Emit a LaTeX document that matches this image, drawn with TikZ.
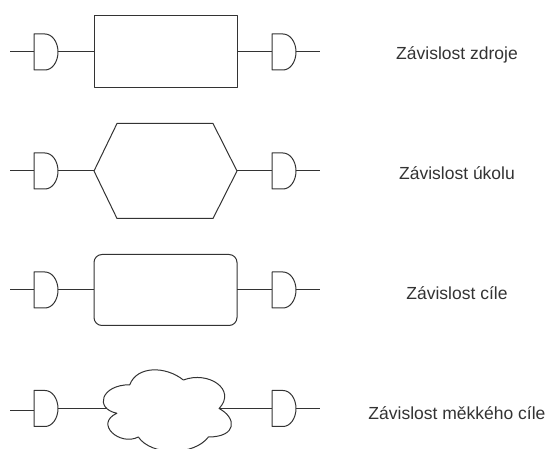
\documentclass[tikz,border=0pt]{standalone}
\usepackage{fontspec}
\setmainfont{Liberation Sans}
\begin{document}
\begin{tikzpicture}[x=1pt,y=-1pt,
  ln/.style={draw=black!80,line width=1pt,line join=round},
  lbl/.style={anchor=base,inner sep=0pt,text=black!80,font=\fontsize{17.5}{20}\selectfont},
  boxshape/.style={ln,minimum width=143pt,inner sep=0pt,outer sep=0pt}]
\useasboundingbox (0,0) rectangle (547,449);
\newcommand\andgate[3]{%
  \coordinate (#1-in) at (#2,#3);
  \coordinate (#1-out) at (#2+24,#3);
  \begin{scope}[shift={(#2,#3)}]
    \draw[ln,fill=white] (0,-18) -- (11,-18) .. controls (18.18,-18) and (24,-9.94) .. (24,0)
      .. controls (24,9.94) and (18.18,18) .. (11,18) -- (0,18) -- cycle;
  \end{scope}}
% Row 1
\coordinate (s1) at (10,52);
\coordinate (e1) at (320,52);
\andgate{g1l}{34}{52}
\andgate{g1r}{272}{52}
\node[boxshape,minimum height=72pt] (r1) at (165.5,52) {};
\draw[ln] (s1) -- (g1l-in);
\draw[ln] (g1l-out) -- (r1.west);
\draw[ln] (r1.east) -- (g1r-in);
\draw[ln] (g1r-out) -- (e1);
% Row 2
\coordinate (s2) at (10,171);
\coordinate (e2) at (320,171);
\andgate{g2l}{34}{171}
\andgate{g2r}{272}{171}
\coordinate (h-w) at (94,171);
\coordinate (h-e) at (237,171);
\draw[ln] (h-w) -- (117,123.5) -- (213,123.5) -- (h-e) -- (213,218.5) -- (117,218.5) -- cycle;
\draw[ln] (s2) -- (g2l-in);
\draw[ln] (g2l-out) -- (h-w);
\draw[ln] (h-e) -- (g2r-in);
\draw[ln] (g2r-out) -- (e2);
% Row 3
\coordinate (s3) at (10,290);
\coordinate (e3) at (320,290);
\andgate{g3l}{34}{290}
\andgate{g3r}{272}{290}
\node[boxshape,minimum height=71pt,rounded corners=8pt] (r3) at (165.5,290) {};
\draw[ln] (s3) -- (g3l-in);
\draw[ln] (g3l-out) -- (r3.west);
\draw[ln] (r3.east) -- (g3r-in);
\draw[ln] (g3r-out) -- (e3);
% Row 4
\coordinate (s4) at (10,410.7);
\coordinate (g4l-in2) at (34,410.7);
\coordinate (e4) at (320,408.5);
\andgate{g4l}{34}{408.5}
\andgate{g4r}{272}{408.5}
\coordinate (c-w) at (106.7,408.5);
\coordinate (c-e) at (219.125,408.5);
\draw[ln] (129.75,384.75)
  .. controls (101.15,384.75) and (94,408.5) .. (116.88,413.25)
  .. controls (94,423.7) and (119.74,446.5) .. (138.33,437)
  .. controls (151.2,456) and (194.1,456) .. (208.4,437)
  .. controls (237,437) and (237,418) .. (c-e)
  .. controls (237,389.5) and (208.4,370.5) .. (183.375,380)
  .. controls (165.5,365.75) and (136.9,365.75) .. (129.75,384.75) -- cycle;
\draw[ln] (s4) -- (g4l-in2);
\draw[ln] (g4l-out) -- (c-w);
\draw[ln] (c-e) -- (g4r-in);
\draw[ln] (g4r-out) -- (e4);
% Labels
\node[lbl] (t1) at (457,60) {Závislost zdroje};
\node[lbl] (t2) at (457,180) {Závislost úkolu};
\node[lbl] (t3) at (457,300) {Závislost cíle};
\node[lbl] (t4) at (457,420) {Závislost měkkého cíle};
\end{tikzpicture}
\end{document}
